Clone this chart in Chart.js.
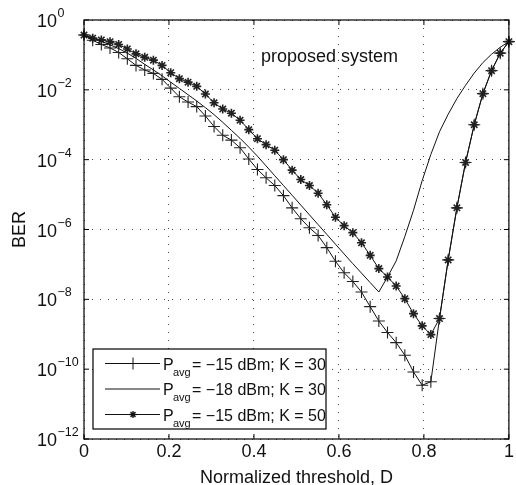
<!DOCTYPE html>
<html>
<head>
<meta charset="utf-8">
<script src="https://cdn.jsdelivr.net/npm/chart.js@4.4.0/dist/chart.umd.min.js"></script>
<style>
  html, body { margin: 0; padding: 0; background: #fff; }
  #wrap { width: 516px; height: 485px; }
</style>
</head>
<body>
<div id="wrap"><canvas id="berChart" width="516" height="485"></canvas></div>
<script>
// --- Data ---
// normalized threshold D (50 samples from 0 to 1)
const thresholdD = [0, 0.0204, 0.0408, 0.0612, 0.0816, 0.102, 0.1224, 0.1429, 0.1633, 0.1837,
    0.2041, 0.2245, 0.2449, 0.2653, 0.2857, 0.3061, 0.3265, 0.3469, 0.3673, 0.3878,
    0.4082, 0.4286, 0.449, 0.4694, 0.4898, 0.5102, 0.5306, 0.551, 0.5714, 0.5918,
    0.6122, 0.6327, 0.6531, 0.6735, 0.6939, 0.7143, 0.7347, 0.7551, 0.7755, 0.7959,
    0.8163, 0.8367, 0.8571, 0.8776, 0.898, 0.9184, 0.9388, 0.9592, 0.9796, 1];

// BER values, written as log10(BER)
const logBerP15K30 = [-0.43, -0.58, -0.70, -0.80, -0.93, -1.11, -1.30, -1.43, -1.53, -1.70,
    -1.95, -2.20, -2.35, -2.48, -2.75, -3.05, -3.30, -3.44, -3.66, -3.98,
    -4.28, -4.52, -4.74, -5.03, -5.38, -5.69, -5.95, -6.17, -6.52, -6.91,
    -7.24, -7.49, -7.79, -8.21, -8.62, -8.95, -9.24, -9.60, -10.08, -10.46,
    -10.36, -8.55, -6.87, -5.38, -4.08, -3.00, -2.11, -1.45, -0.95, -0.62];

const logBerP18K30 = [-0.43, -0.52, -0.61, -0.71, -0.82, -0.95, -1.10, -1.27, -1.43, -1.60,
    -1.78, -1.96, -2.14, -2.32, -2.51, -2.71, -2.93, -3.16, -3.39, -3.64,
    -3.90, -4.18, -4.46, -4.74, -5.02, -5.30, -5.58, -5.86, -6.14, -6.42,
    -6.70, -6.98, -7.25, -7.52, -7.79, -7.36, -6.90, -6.20, -5.45, -4.60,
    -3.85, -3.20, -2.70, -2.25, -1.87, -1.52, -1.22, -0.98, -0.78, -0.62];

const logBerP15K50 = [-0.43, -0.52, -0.57, -0.62, -0.70, -0.83, -0.97, -1.07, -1.15, -1.30,
    -1.51, -1.68, -1.78, -1.90, -2.12, -2.37, -2.55, -2.67, -2.87, -3.14,
    -3.40, -3.57, -3.73, -4.00, -4.30, -4.57, -4.74, -4.96, -5.29, -5.65,
    -5.89, -6.09, -6.38, -6.74, -7.12, -7.36, -7.62, -7.98, -8.41, -8.76,
    -9.01, -8.55, -6.87, -5.38, -4.08, -3.00, -2.11, -1.45, -0.95, -0.62];

const seriesNames = ['= \u221215 dBm; K = 30', '= \u221218 dBm; K = 30', '= \u221215 dBm; K = 50'];
const xTickValues = [0, 0.2, 0.4, 0.6, 0.8, 1];
const xTickLabels = ['0', '0.2', '0.4', '0.6', '0.8', '1'];
const yTickExponents = [0, -2, -4, -6, -8, -10, -12];

const FONT = '"Liberation Sans", Arial, Helvetica, sans-serif';

function toPoints(logs) {
    return thresholdD.map((d, i) => ({ x: d, y: Math.pow(10, logs[i]) }));
}

// --- Axes box, ticks, labels, legend and note drawn on top ---
const figureDecor = {
    id: 'figureDecor',
    afterDraw(chart) {
        const ctx = chart.ctx;
        const a = chart.chartArea;
        const xs = chart.scales.x;
        const ys = chart.scales.y;
        ctx.save();

        // box
        ctx.strokeStyle = '#000';
        ctx.lineWidth = 1.2;
        ctx.strokeRect(a.left, a.top, a.right - a.left, a.bottom - a.top);

        // inward tick marks
        ctx.lineWidth = 1;
        ctx.beginPath();
        xTickValues.forEach(v => {
            const px = xs.getPixelForValue(v);
            ctx.moveTo(px, a.bottom); ctx.lineTo(px, a.bottom - 5);
            ctx.moveTo(px, a.top); ctx.lineTo(px, a.top + 5);
        });
        yTickExponents.forEach(e => {
            const py = ys.getPixelForValue(Math.pow(10, e));
            ctx.moveTo(a.left, py); ctx.lineTo(a.left + 5, py);
            ctx.moveTo(a.right, py); ctx.lineTo(a.right - 5, py);
        });
        ctx.stroke();

        ctx.fillStyle = '#111';
        // x tick labels
        ctx.font = '18px ' + FONT;
        ctx.textAlign = 'center';
        ctx.textBaseline = 'alphabetic';
        xTickValues.forEach((v, i) => {
            ctx.fillText(xTickLabels[i], xs.getPixelForValue(v), a.bottom + 18);
        });

        // y tick labels 10^n
        yTickExponents.forEach(e => {
            const py = ys.getPixelForValue(Math.pow(10, e));
            ctx.font = '18px ' + FONT;
            ctx.textAlign = 'right';
            ctx.fillText('10', 57, py + 7);
            ctx.font = '12.5px ' + FONT;
            ctx.textAlign = 'left';
            ctx.fillText(e === 0 ? '0' : '\u2212' + (-e), 57.5, py - 3);
        });

        // axis titles
        ctx.font = '18px ' + FONT;
        ctx.textAlign = 'center';
        ctx.fillText('Normalized threshold, D', (a.left + a.right) / 2, 483);
        ctx.save();
        ctx.translate(25, (a.top + a.bottom) / 2);
        ctx.rotate(-Math.PI / 2);
        ctx.fillText('BER', 0, 0);
        ctx.restore();

        // note
        ctx.textAlign = 'left';
        ctx.fillText('proposed system', 261, 62);

        // legend
        const lx = 93, ly = 349, lw = 233, lh = 80;
        ctx.fillStyle = '#fff';
        ctx.fillRect(lx, ly, lw, lh);
        ctx.strokeStyle = '#000';
        ctx.lineWidth = 1.2;
        ctx.strokeRect(lx, ly, lw, lh);
        const rows = [363.5, 389, 414.5];
        const styles = [
            { pointStyle: 'cross', radius: 6, borderWidth: 1 },
            null,
            { pointStyle: 'star', radius: 3.5, borderWidth: 1.3 }
        ];
        rows.forEach((ry, i) => {
            ctx.strokeStyle = '#111';
            ctx.lineWidth = 1;
            ctx.beginPath();
            ctx.moveTo(105, ry); ctx.lineTo(160, ry);
            ctx.stroke();
            if (styles[i]) {
                ctx.lineWidth = styles[i].borderWidth;
                Chart.helpers.drawPoint(ctx, styles[i], 133, ry);
            }
            ctx.fillStyle = '#111';
            ctx.font = '16px ' + FONT;
            ctx.fillText('P', 163, ry + 6);
            ctx.font = '11px ' + FONT;
            ctx.fillText('avg', 173, ry + 12);
            ctx.font = '16px ' + FONT;
            ctx.fillText(seriesNames[i], 192, ry + 6);
        });

        ctx.restore();
    }
};

const ctx = document.getElementById('berChart').getContext('2d');
new Chart(ctx, {
    type: 'line',
    data: {
        datasets: [{
            label: 'Pavg = -15 dBm; K = 30',
            data: toPoints(logBerP15K30),
            borderColor: '#111',
            borderWidth: 1,
            pointStyle: 'cross',
            pointRadius: 6,
            pointBorderWidth: 1.1,
            pointBorderColor: '#222',
            pointBackgroundColor: 'transparent',
            tension: 0,
            clip: false
        }, {
            label: 'Pavg = -18 dBm; K = 30',
            data: toPoints(logBerP18K30),
            borderColor: '#111',
            borderWidth: 1,
            pointRadius: 0,
            tension: 0,
            clip: false
        }, {
            label: 'Pavg = -15 dBm; K = 50',
            data: toPoints(logBerP15K50),
            borderColor: '#111',
            borderWidth: 1,
            pointStyle: 'star',
            pointRadius: 4.5,
            pointBorderWidth: 1.6,
            pointBorderColor: '#222',
            pointBackgroundColor: 'transparent',
            tension: 0,
            clip: false
        }]
    },
    options: {
        responsive: false,
        animation: false,
        events: [],
        layout: { padding: { left: 84, top: 20, right: 0, bottom: 46 } },
        plugins: {
            legend: { display: false },
            tooltip: { enabled: false }
        },
        scales: {
            x: {
                type: 'linear',
                min: 0,
                max: 1,
                ticks: { display: false, stepSize: 0.2 },
                grid: { color: '#444', lineWidth: 1, drawTicks: false },
                border: { display: false, dash: [1, 7] }
            },
            y: {
                type: 'logarithmic',
                min: 1e-12,
                max: 1,
                afterBuildTicks: scale => {
                    scale.ticks = yTickExponents.map(e => ({ value: Math.pow(10, e) }));
                },
                ticks: { display: false },
                grid: { color: '#444', lineWidth: 1, drawTicks: false },
                border: { display: false, dash: [1, 7] }
            }
        }
    },
    plugins: [figureDecor]
});
</script>
</body>
</html>
